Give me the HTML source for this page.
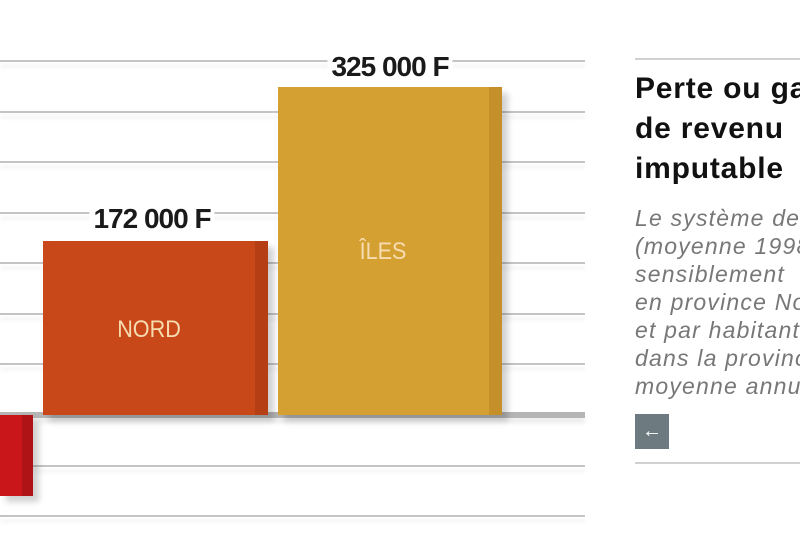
<!DOCTYPE html>
<html><head><meta charset="utf-8"><style>
html,body{margin:0;padding:0;width:800px;height:550px;overflow:hidden;background:#fff;font-family:"Liberation Sans",sans-serif}
.g{position:absolute;left:0;width:585px;height:2px;background:#c4c4c4;box-shadow:0 5px 4px rgba(0,0,0,.08)}
.bar{position:absolute;box-shadow:6px 6px 6px rgba(0,0,0,.18)}
.lbl{position:absolute;font-weight:bold;font-size:28px;color:#1a1a1a;background:#fff;padding:0 4px;letter-spacing:-1px;transform:translateX(-50%);white-space:nowrap}
.in{position:absolute;color:#f6dcb0;font-size:24px;transform:translateX(-50%) scaleX(.9)}
.t{position:absolute;left:635px;white-space:nowrap}
</style></head><body>
<div class="g" style="top:60px"></div>
<div class="g" style="top:111px"></div>
<div class="g" style="top:161px"></div>
<div class="g" style="top:212px"></div>
<div class="g" style="top:262px"></div>
<div class="g" style="top:313px"></div>
<div class="g" style="top:363px"></div>
<div class="g" style="top:412px;height:6px;background:#b5b5b5"></div>
<div class="g" style="top:465px"></div>
<div class="g" style="top:515px"></div>

<div class="bar" style="left:0;top:415px;width:33px;height:81px;background:#c8161b"><div style="position:absolute;right:0;top:0;width:11px;height:100%;background:#b01316"></div></div>
<div class="bar" style="left:43px;top:241px;width:225px;height:174px;background:#c94819"><div style="position:absolute;right:0;top:0;width:13px;height:100%;background:#b53e14"></div></div>
<div class="bar" style="left:278px;top:87px;width:224px;height:328px;background:#d4a032"><div style="position:absolute;right:0;top:0;width:13px;height:100%;background:#c58f29"></div></div>
<div class="in" style="left:149px;top:316px">NORD</div>
<div class="in" style="left:383px;top:238px">ÎLES</div>
<div class="lbl" style="left:152px;top:203px">172 000 F</div>
<div class="lbl" style="left:390px;top:51px">325 000 F</div>

<div style="position:absolute;left:635px;top:58px;width:165px;height:2px;background:#d0d0d0"></div>
<div class="t" style="top:69px;font-size:30px;font-weight:bold;line-height:40px;color:#111;letter-spacing:0.8px">Perte ou gain<br>de revenu<br>imputable</div>
<div class="t" style="top:204px;font-size:23px;font-style:italic;line-height:28px;color:#777;letter-spacing:1.2px">Le système de<br>(moyenne 1998<br>sensiblement<br>en province No<br>et par habitant<br>dans la province<br>moyenne annu</div>
<div style="position:absolute;left:635px;top:414px;width:34px;height:35px;background:#6d7a7f;color:#fff;font-size:20px;line-height:34px;text-align:center">←</div>
<div style="position:absolute;left:635px;top:462px;width:165px;height:2px;background:#d0d0d0"></div>
</body></html>
